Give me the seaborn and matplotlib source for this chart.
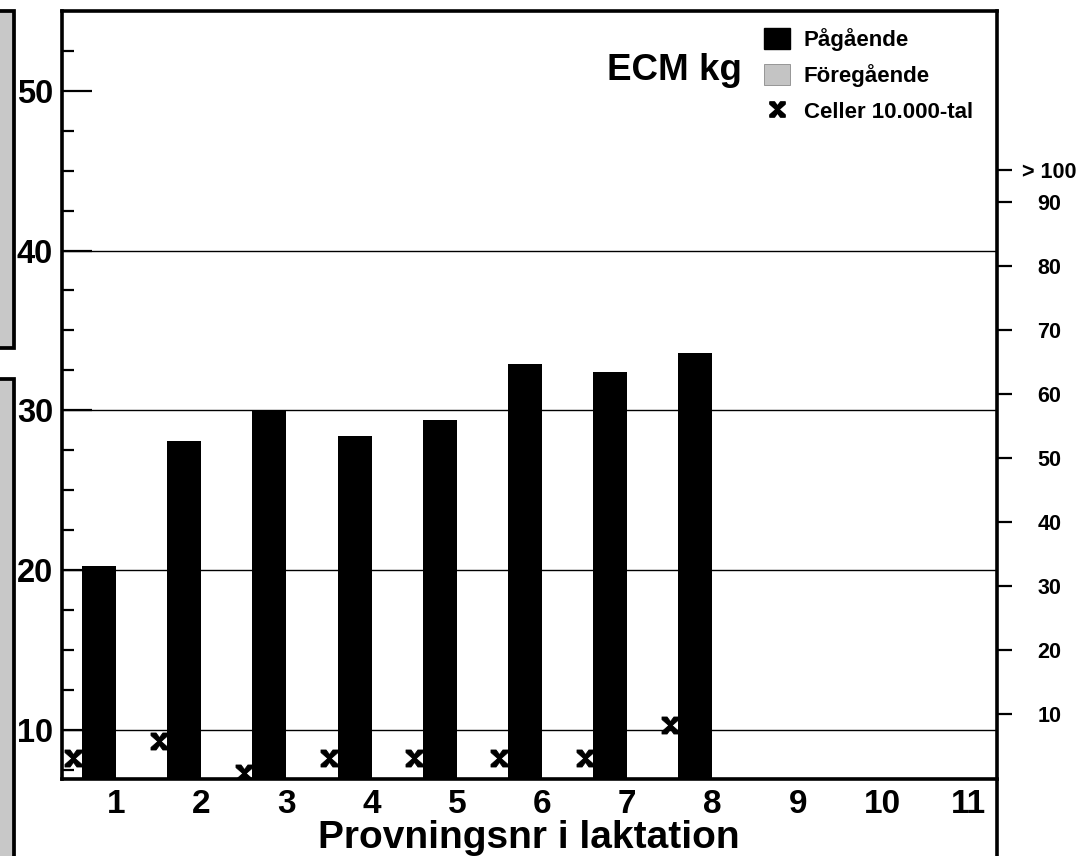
import numpy as np
import pandas as pd
import matplotlib
matplotlib.use("Agg")
import matplotlib.pyplot as plt
import seaborn as sns
from matplotlib import font_manager
from matplotlib.patches import Patch, Rectangle
from matplotlib.lines import Line2D
from matplotlib.path import Path
from matplotlib.markers import MarkerStyle
from matplotlib.ticker import MultipleLocator, FixedLocator

# ---------------- data ----------------
provningar = list(range(1, 12))
ecm_pagaende = [20.25, 28.1, 30.0, 28.4, 29.4, 32.9, 32.4, 33.6]
celler_pos = [0.5, 1.5, 2.5, 3.5, 4.5, 5.5, 6.5, 7.5]
celler = [3.2, 5.8, 0.8, 3.2, 3.2, 3.2, 3.2, 8.3]
left_ticks = [10, 20, 30, 40, 50]
right_ticks = [10, 20, 30, 40, 50, 60, 70, 80, 90, 95]
right_labels = ["10", "20", "30", "40", "50", "60", "70", "80", "90", "> 100"]
series = ["Pågående", "Föregående"]
title_text = "ECM kg"
xlabel_text = "Provningsnr i laktation"
legend_labels = ["Pågående", "Föregående", "Celler 10.000-tal"]

# ---------------- style ----------------
sns.set_theme(style="white")
plt.rcParams["font.family"] = ["Liberation Sans", "DejaVu Sans"]
plt.rcParams["font.weight"] = "bold"
plt.rcParams["text.color"] = "black"
names = {f.name for f in font_manager.fontManager.ttflist}
narrow = "Liberation Sans Narrow" if "Liberation Sans Narrow" in names else "Liberation Sans"

fig = plt.figure(figsize=(10.79, 8.56), dpi=100)
ax = fig.add_axes([0.057, 0.090, 0.867, 0.8966])

df = pd.DataFrame({
    "prov": provningar[:len(ecm_pagaende)],
    "ecm": ecm_pagaende,
    "serie": series[0],
})
sns.barplot(data=df, x="prov", y="ecm", hue="serie", order=provningar,
            hue_order=series, palette={series[0]: "black", series[1]: "#c8c8c8"},
            width=0.8, dodge=True, errorbar=None, saturation=1, linewidth=0,
            legend=False, ax=ax)

ax.set_xlim(-0.64, 10.34)
ax.set_ylim(6.95, 54.95)

# grid lines at the labelled values below the top one
for v in left_ticks[:-1]:
    ax.axhline(v, color="black", lw=1.0, zorder=0.5)

ax.yaxis.set_major_locator(FixedLocator(left_ticks))
ax.yaxis.set_minor_locator(MultipleLocator(2.5))
ax.tick_params(axis="y", which="major", direction="in", length=21.6, width=1.6,
               pad=6, labelsize=23.5, left=True, color="black", labelcolor="black")
ax.tick_params(axis="y", which="minor", direction="in", length=8.6, width=1.6,
               left=True, color="black")
ax.tick_params(axis="x", length=0, pad=7, labelsize=24, labelfontfamily=narrow,
               labelcolor="black")
ax.set_ylabel("")
ax.set_xlabel(xlabel_text, fontsize=28, fontfamily=narrow, fontweight="bold",
              color="black", labelpad=0)

for s in ["left", "top", "bottom"]:
    ax.spines[s].set_visible(True)
    ax.spines[s].set_color("black")
    ax.spines[s].set_linewidth(2.6)
ax.spines["right"].set_visible(False)

# ---------------- cells on right axis ----------------
ax2 = ax.twinx()
star_verts = [(-1, 1), (-0.4, 1), (0, 0.45), (0.4, 1), (1, 1), (1, 0.7),
              (0.2, 0), (1, -0.7), (1, -1), (0.4, -1), (0, -0.45), (-0.4, -1),
              (-1, -1), (-1, -0.7), (-0.2, 0), (-1, 0.7), (-1, 1)]
star = MarkerStyle(Path(star_verts, closed=True))
sns.scatterplot(x=np.array(celler_pos) - 1, y=celler, marker=star, s=150,
                color="black", edgecolor="black", linewidth=0.6, legend=False,
                ax=ax2, zorder=5)
ax2.set_ylim(-0.15, 119.8)
ax2.set_xlim(-0.64, 10.34)
ax2.set_yticks(right_ticks, right_labels)
ax2.tick_params(axis="y", which="major", direction="out", length=10.8, width=1.6,
                pad=27, labelsize=15.5, right=True, color="black", labelcolor="black")
for lbl in ax2.get_yticklabels():
    lbl.set_horizontalalignment("center")
ax2.set_ylabel("")
for s in ["left", "top", "bottom"]:
    ax2.spines[s].set_visible(False)
ax2.spines["right"].set_visible(True)
ax2.spines["right"].set_color("black")
ax2.spines["right"].set_linewidth(2.6)
ax2.grid(False)
ax.grid(False)

# legend
handles = [Patch(facecolor="black", edgecolor="black"),
           Patch(facecolor="#c4c4c4", edgecolor="#8a8a8a", linewidth=0.6),
           Line2D([], [], marker=star, color="black", linestyle="none",
                  markersize=11)]
ax2.legend(handles, legend_labels, loc="upper left", bbox_to_anchor=(0.741, 0.99),
           frameon=False, prop={"weight": "bold", "size": 16}, labelcolor="black",
           handlelength=1.17, handleheight=1.04, handletextpad=0.63,
           labelspacing=0.58, borderaxespad=0, borderpad=0.4)

ax2.text(0.655, 0.9235, title_text, transform=ax.transAxes, ha="center",
         va="center", fontsize=26.5, fontweight="bold", color="black")

# right frame line continuing to bottom of figure
pos = ax.get_position()
fig.add_artist(Line2D([pos.x1, pos.x1], [0, pos.y0], color="black", lw=2.6,
                      transform=fig.transFigure))

# partial neighbouring panel on the far left
fig.add_artist(Rectangle((-0.01, 1 - 347.5 / 856), 14.5 / 1079 + 0.01,
                         (347.5 - 11.5) / 856, facecolor="#c8c8c8",
                         edgecolor="black", lw=2.7, transform=fig.transFigure))
fig.add_artist(Rectangle((-0.01, -0.01), 14.5 / 1079 + 0.01,
                         1 - 379.5 / 856 + 0.01, facecolor="#c8c8c8",
                         edgecolor="black", lw=2.7, transform=fig.transFigure))

fig.savefig("out.png", dpi=100)
